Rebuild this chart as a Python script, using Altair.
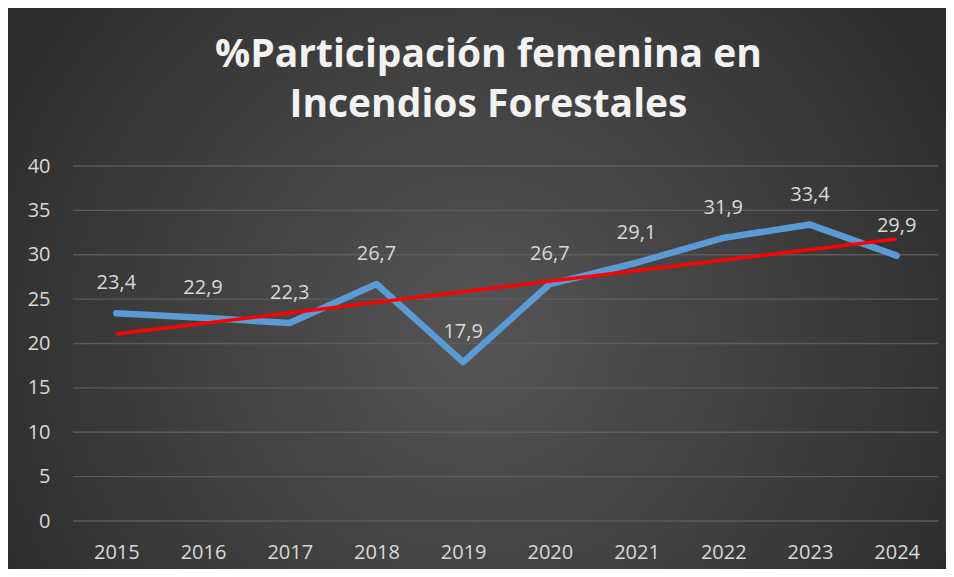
import altair as alt
import pandas as pd

years = [2015, 2016, 2017, 2018, 2019, 2020, 2021, 2022, 2023, 2024]
values = [23.4, 22.9, 22.3, 26.7, 17.9, 26.7, 29.1, 31.9, 33.4, 29.9]
y_ticks = [0, 5, 10, 15, 20, 25, 30, 35, 40]
title_lines = ["%Participación femenina en", "Incendios Forestales"]

df = pd.DataFrame({
    "year": years,
    "value": values,
    "label": [f"{v:.1f}".replace(".", ",") for v in values],
})
grid_df = pd.DataFrame({"tick": y_ticks})

W, H = 867, 355
PL, PT, PR, PB = 65, 158, 6, 48
FONT = "Open Sans"
TXT = "#d9d9d9"

x_scale = alt.Scale(domain=[2014.5, 2024.5], nice=False, zero=False)
y_scale = alt.Scale(domain=[0, 40], nice=False)

x_enc = alt.X("year:Q", scale=x_scale,
              axis=alt.Axis(values=years, format="d", title=None, grid=False, ticks=False,
                            domain=False, labelFont=FONT, labelFontSize=20, labelColor=TXT,
                            labelPadding=21, labelFlush=False, zindex=2))
y_enc = alt.Y("value:Q", scale=y_scale,
              axis=alt.Axis(values=y_ticks, title=None, grid=False, ticks=False, domain=False,
                            labelFont=FONT, labelFontSize=20, labelColor=TXT, labelPadding=23,
                            zindex=2))

bg = alt.Chart(alt.Data(values=[{}])).mark_rect(
    fill=alt.RadialGradient(
        gradient="radial", x1=0.5, y1=0.55, r1=0, x2=0.5, y2=0.55, r2=0.72,
        stops=[alt.GradientStop(offset=0, color="#555555"),
               alt.GradientStop(offset=1, color="#232323")]),
).encode(x=alt.value(-PL), x2=alt.value(W + PR), y=alt.value(-PT), y2=alt.value(H + PB))

grid = alt.Chart(grid_df).mark_rule(color="#5c5c5c", strokeWidth=1.3).encode(
    y=alt.Y("tick:Q", scale=y_scale), x=alt.value(0), x2=alt.value(W - 2))

base = alt.Chart(df)

line = base.mark_line(color="#5b9bd5", strokeWidth=6.5, strokeCap="round",
                      strokeJoin="round").encode(x=x_enc, y=y_enc)

trend = base.transform_regression("year", "value").mark_line(
    color="#ff0000", strokeWidth=3.5).encode(x="year:Q", y="value:Q")

labels = base.mark_text(font=FONT, fontSize=20, color=TXT, dy=-24,
                        baseline="alphabetic").encode(x="year:Q", y="value:Q", text="label:N")

chart = alt.layer(bg, grid, line, trend, labels).properties(
    width=W, height=H,
    padding={"left": PL, "top": PT, "right": PR, "bottom": PB},
    autosize=alt.AutoSizeParams(type="none"),
    background="white",
    title=alt.TitleParams(text=title_lines, font=FONT, fontSize=39, fontWeight="bold",
                          color="#f2f2f2", lineHeight=50, anchor="middle", dx=-18,
                          offset=-117, zindex=3),
).configure_view(stroke=None)

chart.save("out.html", embed_options={"renderer": "svg", "actions": False})
